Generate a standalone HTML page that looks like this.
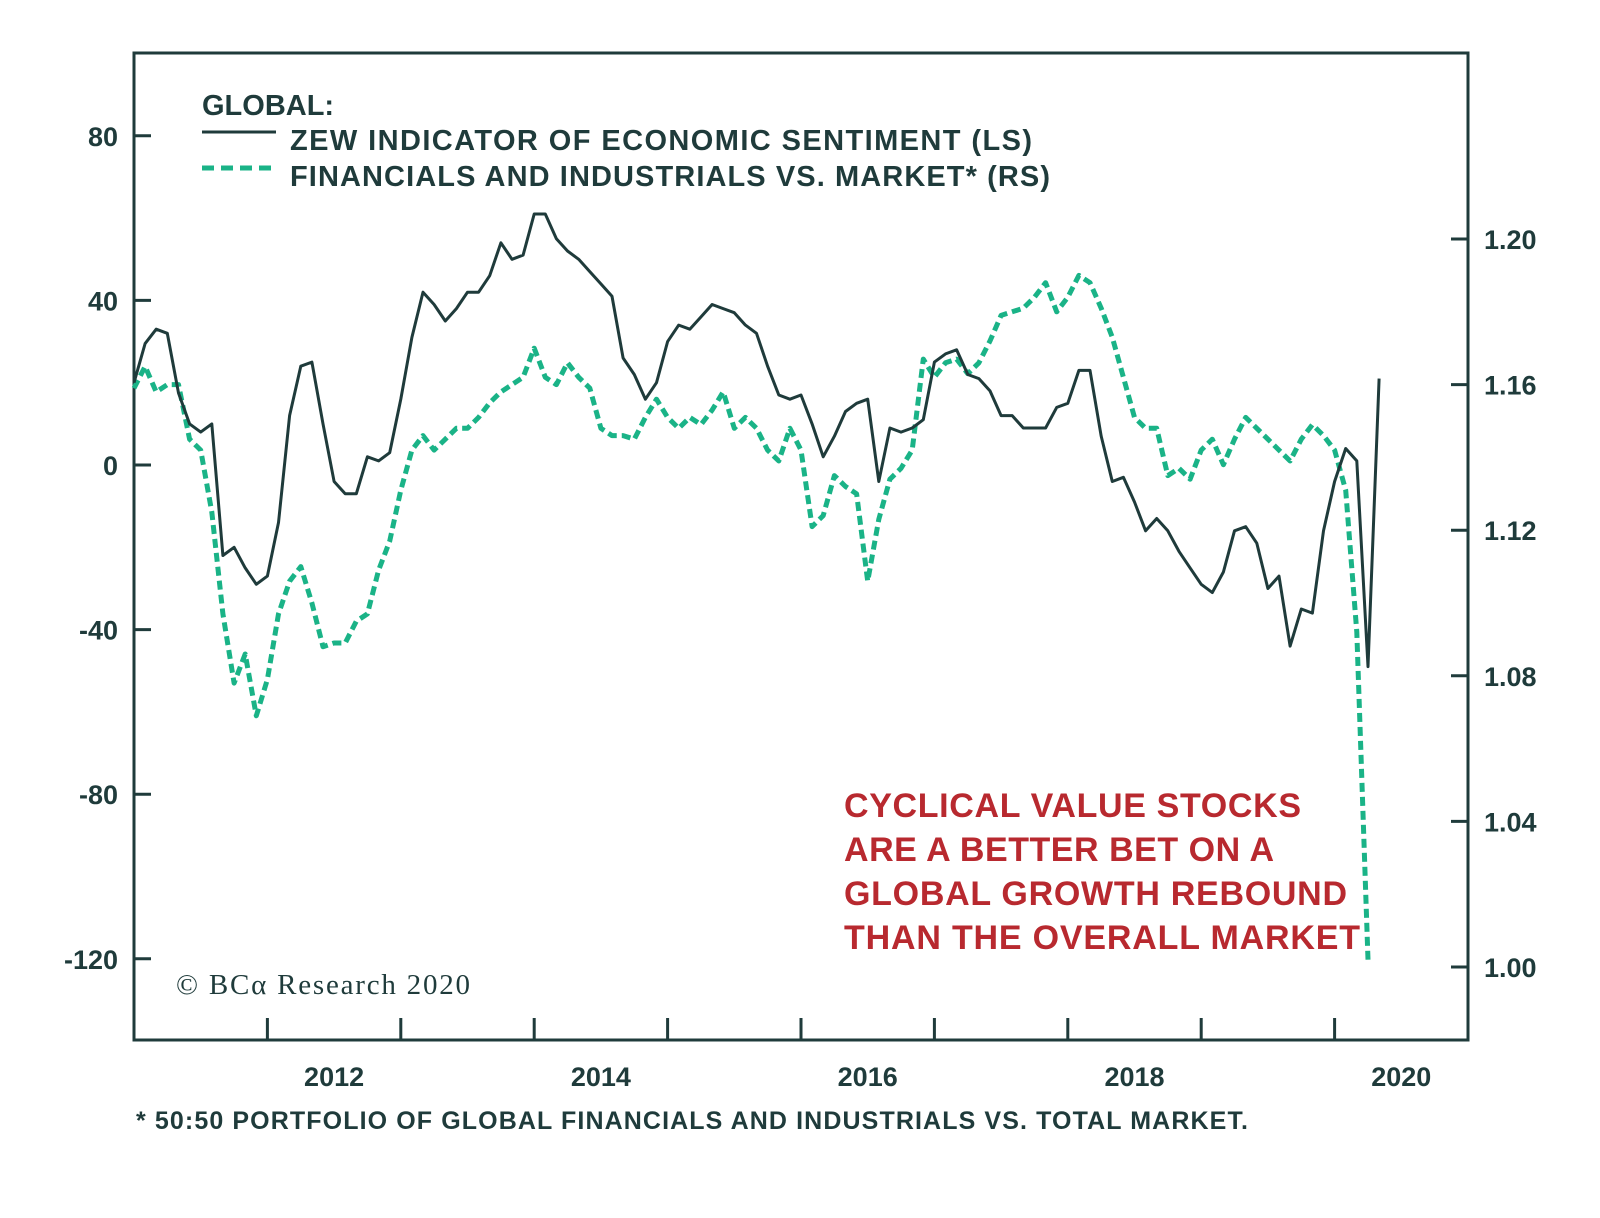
<!DOCTYPE html>
<html><head><meta charset="utf-8">
<style>
body{margin:0;background:#fff;}
svg{display:block;font-family:"Liberation Sans",sans-serif;}
</style></head>
<body>
<svg id="chart" width="1600" height="1218" viewBox="0 0 1600 1218">
<g id="axes"></g>
<g id="series"></g>
<g>
<text x="202" y="115" font-size="29" font-weight="bold" fill="#1f3b3b">GLOBAL:</text>
<line x1="202" y1="132" x2="276" y2="132" stroke="#1f3b3b" stroke-width="3"/>
<text x="290" y="150" font-size="29" font-weight="bold" fill="#1f3b3b" textLength="742">ZEW INDICATOR OF ECONOMIC SENTIMENT (LS)</text>
<line x1="202" y1="168" x2="276" y2="168" stroke="#1ab387" stroke-width="5" stroke-dasharray="12 7"/>
<text x="290" y="186" font-size="29" font-weight="bold" fill="#1f3b3b" textLength="760">FINANCIALS AND INDUSTRIALS VS. MARKET* (RS)</text>
</g>
<g fill="#b8292f" font-size="34" font-weight="bold">
<text x="844" y="817" textLength="457">CYCLICAL VALUE STOCKS</text>
<text x="844" y="861" textLength="430">ARE A BETTER BET ON A</text>
<text x="844" y="905" textLength="503">GLOBAL GROWTH REBOUND</text>
<text x="844" y="949" textLength="516">THAN THE OVERALL MARKET</text>
</g>
<text x="176" y="994" font-family="Liberation Serif,serif" font-size="29" fill="#1f3b3b" textLength="294">© BCα Research 2020</text>
<text x="136" y="1129" font-size="25" font-weight="bold" fill="#1f3b3b" textLength="1112">* 50:50 PORTFOLIO OF GLOBAL FINANCIALS AND INDUSTRIALS VS. TOTAL MARKET.</text>
</svg>
<script>
const zewStart = 2011.0;
const zewValues = [20,29.5,33,32,17.5,10,8,10,-22,-20,-25,-29,-27,-14,12,24,25,10,-4,-7,-7,2,1,3,16,31,42,39,35,38,42,42,46,54,50,51,61,61,55,52,50,47,44,41,26,22,16,20,30,34,33,36,39,38,37,34,32,24,17,16,17,10,2,7,13,15,16,-4,9,8,9,11,25,27,28,22,21,18,12,12,9,9,9,14,15,23,23,7,-4,-3,-9,-16,-13,-16,-21,-25,-29,-31,-26,-16,-15,-19,-30,-27,-44,-35,-36,-16,-4,4,1,-49,21];
const finStart = 2011.0;
const finValues = [1.159,1.165,1.158,1.160,1.160,1.145,1.142,1.125,1.097,1.078,1.086,1.069,1.079,1.097,1.106,1.110,1.100,1.088,1.089,1.089,1.095,1.097,1.109,1.117,1.131,1.142,1.146,1.142,1.145,1.148,1.148,1.151,1.155,1.158,1.160,1.162,1.170,1.162,1.160,1.166,1.162,1.159,1.148,1.146,1.146,1.145,1.151,1.156,1.151,1.148,1.151,1.149,1.153,1.158,1.148,1.151,1.148,1.142,1.139,1.148,1.142,1.121,1.124,1.135,1.132,1.130,1.106,1.123,1.134,1.137,1.142,1.167,1.162,1.166,1.167,1.163,1.166,1.172,1.179,1.180,1.181,1.184,1.188,1.180,1.184,1.190,1.188,1.181,1.173,1.162,1.151,1.148,1.148,1.135,1.137,1.134,1.142,1.145,1.138,1.145,1.151,1.148,1.145,1.142,1.139,1.145,1.149,1.146,1.142,1.131,1.092,1.002];
const leftTicks = [80,40,0,-40,-80,-120];
const rightTicks = [1.20,1.16,1.12,1.08,1.04,1.00];
const yearTicks = [2012,2013,2014,2015,2016,2017,2018,2019,2020];
const yearLabels = [2012,2014,2016,2018,2020];

const L=134,R=1468,T=53,B=1040;
const x = t => L + (t-2011)*(R-L)/10;
const yL = v => 465 - v*(960-137)/200;
const yR = v => 239 + (1.20-v)*(967-239)/0.20;
const NS='http://www.w3.org/2000/svg';
function mk(tag, attrs, parent){const e=document.createElementNS(NS,tag);for(const k in attrs)e.setAttribute(k,attrs[k]);parent.appendChild(e);return e;}
const axes=document.getElementById('axes'), series=document.getElementById('series');
const C='#1f3b3b';
let f=mk('rect',{x:L,y:T,width:R-L,height:B-T,fill:'none',stroke:C,'stroke-width':3},axes);


leftTicks.forEach(v=>{
  let l=mk('line',{x1:L,x2:L+17,y1:yL(v),y2:yL(v),stroke:C,'stroke-width':3},axes);
  
  
  let t=mk('text',{x:118,y:yL(v)+10,'text-anchor':'end','font-size':27,'font-weight':'bold',fill:C},axes);
  t.textContent=v;
  
  
});
rightTicks.forEach(v=>{
  let l=mk('line',{x1:R-17,x2:R,y1:yR(v),y2:yR(v),stroke:C,'stroke-width':3},axes);
  
  
  let t=mk('text',{x:1484,y:yR(v)+10,'font-size':27,'font-weight':'bold',fill:C},axes);
  t.textContent=v.toFixed(2);
  
  
});
yearTicks.forEach(y=>{
  let l=mk('line',{x1:x(y),x2:x(y),y1:B-22,y2:B,stroke:C,'stroke-width':3},axes);
  
  
});
yearLabels.forEach(y=>{
  let t=mk('text',{x:x(y+0.5),y:1086,'text-anchor':'middle','font-size':27,'font-weight':'bold',fill:C},axes);
  t.textContent=y;
  
  
});
const gp=finValues.map((v,i)=>x(finStart+i/12).toFixed(1)+','+yR(v).toFixed(1)).join(' ');
let g=mk('polyline',{points:gp,fill:'none',stroke:'#1ab387','stroke-width':5,'stroke-dasharray':'9 5','stroke-linejoin':'round'},series);


const zp=zewValues.map((v,i)=>x(zewStart+i/12).toFixed(1)+','+yL(v).toFixed(1)).join(' ');
let z=mk('polyline',{points:zp,fill:'none',stroke:C,'stroke-width':3,'stroke-linejoin':'round'},series);


</script>
</body></html>
